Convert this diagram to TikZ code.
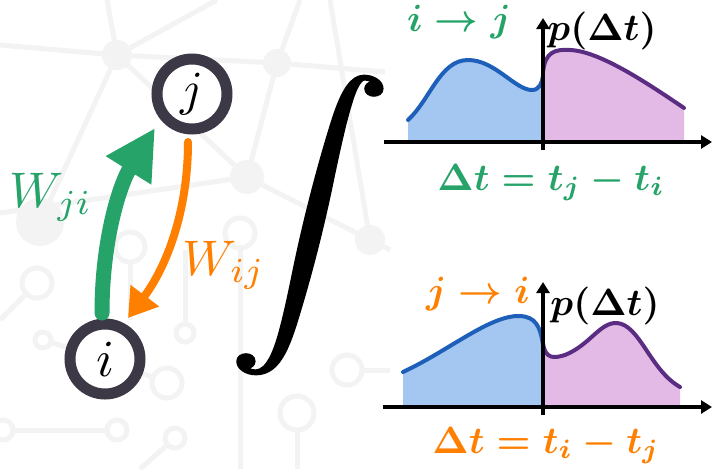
\documentclass[tikz,border=0pt]{standalone}
\usepackage{amsmath}
\usepackage{graphicx}
\usetikzlibrary{arrows.meta,calc}
\definecolor{cgreen}{RGB}{38,163,105}
\definecolor{corange}{RGB}{255,127,0}
\definecolor{ring}{RGB}{60,56,70}
\definecolor{bline}{RGB}{30,95,185}
\definecolor{bfill}{RGB}{163,199,240}
\definecolor{pline}{RGB}{90,45,130}
\definecolor{pfill}{RGB}{227,186,230}
\definecolor{bgnet}{RGB}{243,243,243}
\newcommand{\mysz}[2]{\scalebox{#1}{#2}}
\newcommand{\heavyint}{\special{pdf:literal direct 2 Tr 0.22 w}$\displaystyle\int$\special{pdf:literal direct 0 Tr}}
\begin{document}
\begin{tikzpicture}[x=1pt,y=-1pt,
  bgline/.style={draw=bgnet,line width=5pt},
  bgdot/.style={fill=bgnet},
  bgring/.style={draw=bgnet,line width=5pt,fill=white},
  vert/.style={circle,draw=ring,line width=11pt,minimum size=70pt,inner sep=0pt,fill=white},
  wlab/.style={anchor=base,inner sep=0pt},
  plab/.style={anchor=base,inner sep=0pt},
  axis/.style={draw=black,line width=3.5pt,-{Triangle[length=11pt,width=13pt]}},
  bcurve/.style={draw=bline,line width=4pt,line cap=round},
  pcurve/.style={draw=pline,line width=4pt,line cap=round},
]
\useasboundingbox (0,0) rectangle (715,469);
\fill[white] (0,0) rectangle (715,469);
% faint background network
\draw[bgline] (0,45) -- (117,55) -- (277,63) -- (385,72);
\draw[bgline] (107,0) -- (117,55) -- (217,0);
\draw[bgline] (40,222) -- (117,55) -- (247,177) -- (277,63) -- (300,0);
\draw[bgline] (330,0) -- (370,240);
\draw[bgline] (0,213) -- (247,177) -- (370,240) -- (390,250);
\draw[bgline] (0,320) -- (37,283);
\draw[bgline] (43,340) -- (105,359) -- (167,383);
\draw[bgline] (130,247) -- (130,320);
\draw[bgline] (185,250) -- (185,333);
\draw[bgline] (240,233) -- (240,469);
\draw[bgline] (0,430) -- (117,430);
\draw[bgline] (175,438) -- (140,469);
\draw[bgline] (297,413) -- (297,469);
\draw[bgline] (347,370) -- (390,370);
\fill[bgdot] (117,55) circle (15);
\fill[bgdot] (277,63) circle (14);
\fill[bgdot] (247,177) circle (17);
\fill[bgdot] (40,222) circle (24);
\fill[bgdot] (370,240) circle (15);
\draw[bgring] (37,283) circle (15);
\draw[bgring] (43,340) circle (8);
\draw[bgring] (130,247) circle (15);
\draw[bgring] (167,383) circle (15);
\draw[bgring] (185,333) circle (9);
\draw[bgring] (240,233) circle (15);
\draw[bgring] (117,430) circle (10);
\draw[bgring] (175,438) circle (10);
\draw[bgring] (297,413) circle (17);
\draw[bgring] (347,370) circle (15);
\draw[bgring] (3,430) circle (10);

% nodes
\node[vert] (j) at (192,94) {\mysz{4.9}{$j$}};
\node[vert] (i) at (105,359) {\mysz{5.2}{$i$}};

% arrows
\draw[draw=cgreen,line width=15pt,line cap=round,-{Triangle[length=50pt,width=50pt]}]
  ($(i.center)+(-3,-46)$) .. controls ($(i.center)+(-3,-120)$) and ($(j.center)+(-72,90)$) .. ($(j.center)+(-37,34)$);
\draw[draw=corange,line width=8pt,line cap=round,-{Triangle[length=28pt,width=34pt]}]
  ($(j.center)+(-4,48)$) .. controls ($(j.center)+(-4,120)$) and ($(i.center)+(60,-90)$) .. ($(i.center)+(23,-41)$);
\node[wlab,text=cgreen] (wji) at (51,207) {\mysz{5}{$W_{ji}$}};
\node[wlab,text=corange] (wij) at (224,275) {\mysz{5}{$W_{ij}$}};

% integral
\node[inner sep=0pt] (int) at (310,225) {\scalebox{16.2}[13.4]{\heavyint}};

% top plot
\fill[bfill] (408,142) -- (408,120) .. controls (430,100) and (440,60) .. (468,60) .. controls (495,60) and (515,90) .. (532,90) .. controls (540,90) and (542,82) .. (543,76) -- (543,142) -- cycle;
\fill[pfill] (543,142) -- (543,72) .. controls (545,52) and (555,49) .. (570,50) .. controls (600,51) and (650,85) .. (684,108) -- (684,142) -- cycle;
\draw[bcurve] (408,120) .. controls (430,100) and (440,60) .. (468,60) .. controls (495,60) and (515,90) .. (532,90) .. controls (540,90) and (542,82) .. (543,76);
\draw[pcurve] (543,72) .. controls (545,52) and (555,49) .. (570,50) .. controls (600,51) and (650,85) .. (684,108);
\coordinate (ax1l) at (384,142);
\coordinate (ax1r) at (712,142);
\coordinate (ay1b) at (543,150);
\coordinate (ay1t) at (543,18);
\draw[axis] (ax1l) -- (ax1r);
\draw[axis] (ay1b) -- (ay1t);
\node[plab,text=cgreen] (lab1) at (459,31) {\mysz{3.8}{\boldmath$i\rightarrow j$}};
\node[plab] (p1) at (602,40) {\mysz{3.8}{\boldmath$p(\Delta t)$}};
\node[plab,text=cgreen] (dt1) at (551,190) {\mysz{3.8}{\boldmath$\Delta t=t_j-t_i$}};

% bottom plot
\fill[bfill] (403,407) -- (403,372) .. controls (450,350) and (490,315) .. (520,316) .. controls (535,317) and (540,325) .. (543,345) -- (543,407) -- cycle;
\fill[pfill] (543,407) -- (543,343) .. controls (545,360) and (555,358) .. (565,355) .. controls (590,345) and (600,322) .. (617,323) .. controls (640,325) and (650,370) .. (680,387) -- (680,407) -- cycle;
\draw[bcurve] (403,372) .. controls (450,350) and (490,315) .. (520,316) .. controls (535,317) and (540,325) .. (543,345);
\draw[pcurve] (543,343) .. controls (545,360) and (555,358) .. (565,355) .. controls (590,345) and (600,322) .. (617,323) .. controls (640,325) and (650,370) .. (680,387);
\coordinate (ax2l) at (383,407);
\coordinate (ax2r) at (712,407);
\coordinate (ay2b) at (543,415);
\coordinate (ay2t) at (543,282);
\draw[axis] (ax2l) -- (ax2r);
\draw[axis] (ay2b) -- (ay2t);
\node[plab,text=corange] (lab2) at (478,303) {\mysz{3.8}{\boldmath$j\rightarrow i$}};
\node[plab] (p2) at (605,315) {\mysz{3.8}{\boldmath$p(\Delta t)$}};
\node[plab,text=corange] (dt2) at (546,453) {\mysz{3.8}{\boldmath$\Delta t=t_i-t_j$}};
\end{tikzpicture}
\end{document}
